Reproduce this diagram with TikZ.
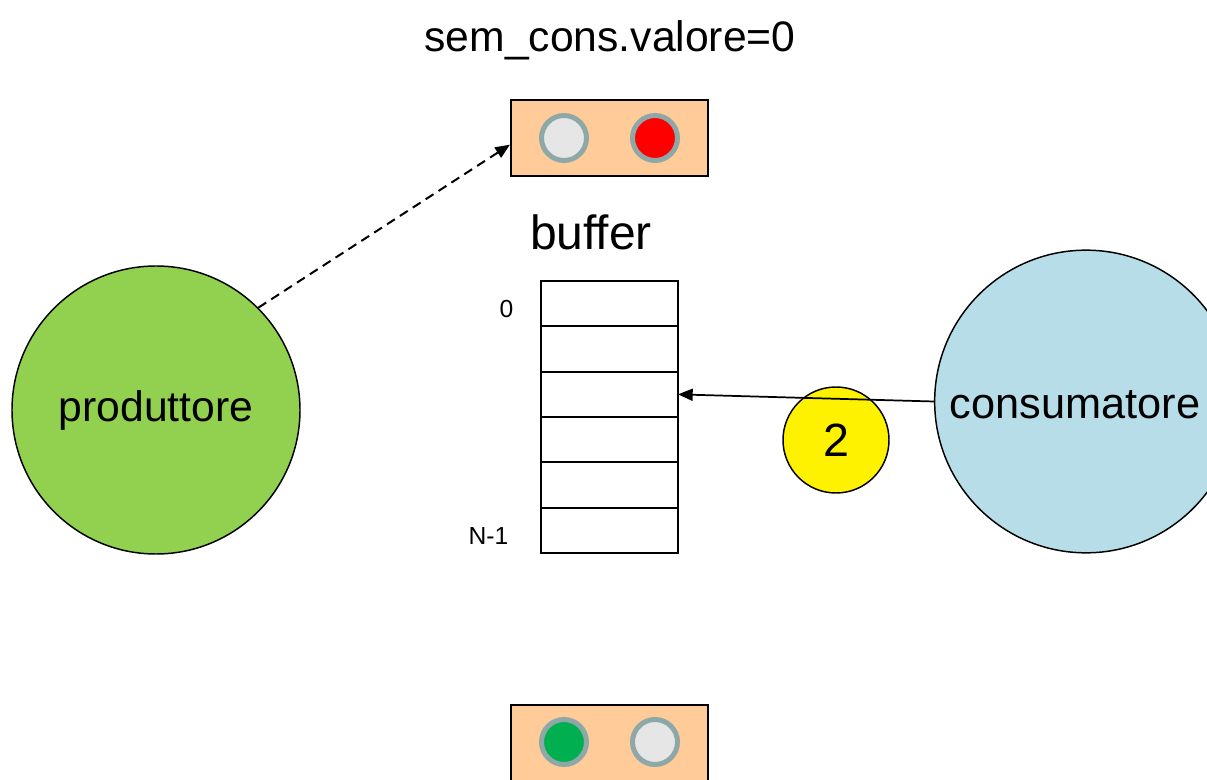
\documentclass[tikz,border=0pt]{standalone}
\usepackage{fontspec}
\setmainfont{Liberation Sans}[Ligatures=NoCommon]
\usetikzlibrary{positioning,arrows.meta}

\definecolor{prodgreen}{HTML}{92D050}
\definecolor{conscyan}{HTML}{B7DEE8}
\definecolor{semorange}{HTML}{FFCC99}
\definecolor{lampring}{HTML}{8EA8A8}
\definecolor{lampoff}{HTML}{E6E6E6}
\definecolor{lampgreen}{HTML}{00B050}

\tikzset{
  proc/.style={draw,circle,line width=1.1pt,inner sep=0pt,
    font=\fontsize{32}{38}\selectfont},
  cell/.style={draw,rectangle,line width=1.3pt,minimum width=102.75pt,
    minimum height=34pt,inner sep=0pt,outer sep=0pt},
  sembox/.style={draw,rectangle,fill=semorange,line width=1.5pt,
    minimum width=147.75pt,minimum height=57pt},
  lamp/.style={draw=lampring,circle,line width=3.75pt,minimum size=33.75pt,
    inner sep=0pt},
  idx/.style={font=\fontsize{18.5}{22}\selectfont,anchor=east}
}

\begin{document}
\begin{tikzpicture}[x=0.75pt,y=-0.75pt,>={Triangle[length=11pt,width=9pt]}]
  \clip (0,0) rectangle (1207,780);
  \useasboundingbox (0,0) rectangle (1207,780);

  % Nodes
  \node[font=\fontsize{32}{38}\selectfont] (title) at (610,40) {sem\_cons.valore=0};

  \node[sembox] (semtop) at (609.5,138) {};
  \node[lamp,fill=lampoff] (ltop1) at (564,138) {};
  \node[lamp,fill=red] (ltop2) at (655,138) {};

  \node[sembox] (sembot) at (609.5,743) {};
  \node[lamp,fill=lampgreen] (lbot1) at (564,742) {};
  \node[lamp,fill=lampoff] (lbot2) at (655,742) {};

  \node[font=\fontsize{36}{42}\selectfont] (buflabel) at (591,232) {buffer};
  \node[cell] (b1) at (609.5,303.7) {};
  \node[cell,below=0pt of b1] (b2) {};
  \node[cell,below=0pt of b2] (b3) {};
  \node[cell,below=0pt of b3] (b4) {};
  \node[cell,below=0pt of b4] (b5) {};
  \node[cell,below=0pt of b5] (b6) {};
  \node[idx] (i0) at (518,309) {0};
  \node[idx] (iN) at (513,536) {N-1};

  \node[proc,fill=prodgreen,minimum size=216pt] (prod) at (156,410) {produttore};
  \node[proc,fill=conscyan,minimum size=227pt] (cons) at (1086,401.5) {};
  \node[font=\fontsize{32.5}{38}\selectfont] (conslabel) at (1075,405) {consumatore};

  \node[proc,fill=yellow,minimum size=79.5pt,font=\fontsize{35}{40}\selectfont] (item) at (836,440) {2};

  % Arrows
  \draw[black,line width=1.5pt,dash pattern=on 7pt off 4.5pt,->] (prod.45) -- ([yshift=-5pt]semtop.west);
  \draw[black,line width=1.3pt,->] (cons.west) -- (b3.east);
\end{tikzpicture}
\end{document}
